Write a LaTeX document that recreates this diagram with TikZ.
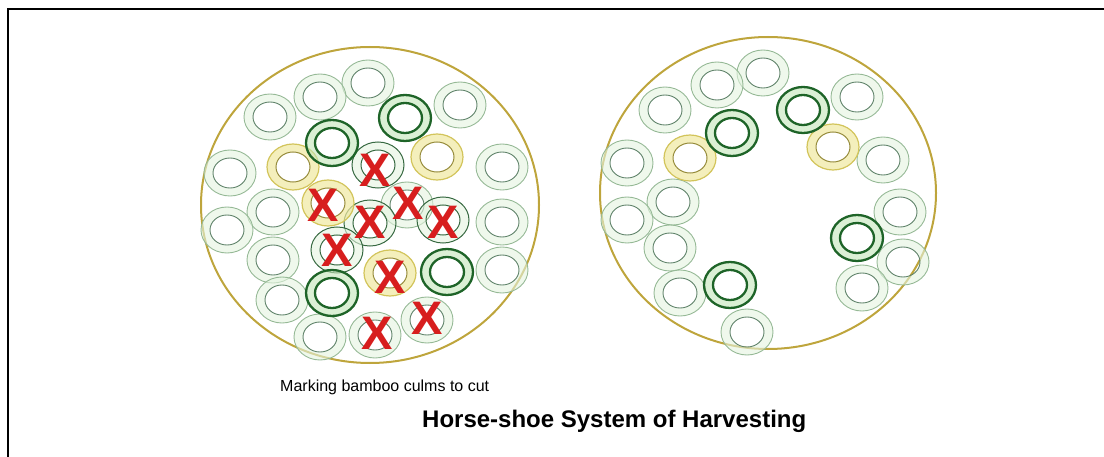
\documentclass[tikz,border=0pt]{standalone}
\usepackage{fontspec}
\setmainfont{Liberation Sans}
\usepackage{tikz}
\usetikzlibrary{shapes.geometric}
\definecolor{oro}{RGB}{190,165,60}
\definecolor{rojo}{RGB}{215,30,30}
\definecolor{verdepalido}{RGB}{228,244,224}
\definecolor{verdelinea}{RGB}{150,185,150}
\definecolor{verdegris}{RGB}{95,130,105}
\definecolor{verdemedio}{RGB}{55,105,65}
\definecolor{verdeclaro}{RGB}{195,230,185}
\definecolor{verdeoscuro}{RGB}{30,100,40}
\definecolor{amarillo}{RGB}{240,232,160}
\definecolor{amarillolinea}{RGB}{210,196,90}
\definecolor{oliva}{RGB}{150,140,60}

\tikzset{
  pics/culm/.style={code={
    \fill[#1 band, even odd rule] (0,0) ellipse (26 and 23) (0,0) ellipse (17 and 15);
    \draw[#1 outer] (0,0) ellipse (26 and 23);
    \draw[#1 inner] (0,0) ellipse (17 and 15);
  }},
  pale band/.style={fill=verdepalido, fill opacity=0.6},
  pale outer/.style={draw=verdelinea, line width=0.9pt},
  pale inner/.style={draw=verdegris, line width=0.9pt},
  mid band/.style={fill=verdepalido, fill opacity=0.6},
  mid outer/.style={draw=verdemedio, line width=1pt},
  mid inner/.style={draw=verdemedio, line width=1pt},
  dark band/.style={fill=verdeclaro, fill opacity=0.6},
  dark outer/.style={draw=verdeoscuro, line width=2.3pt},
  dark inner/.style={draw=verdeoscuro, line width=2.3pt},
  yellow band/.style={fill=amarillo, fill opacity=0.7},
  yellow outer/.style={draw=amarillolinea, line width=1.2pt},
  yellow inner/.style={draw=oliva, line width=1pt},
}

\begin{document}
\begin{tikzpicture}[x=1pt, y=-1pt,
    clump/.style={draw=oro, line width=2pt, ellipse, inner sep=0pt},
    cutmark/.style={text=rojo, font=\fontsize{47}{47}\selectfont\bfseries, inner sep=0pt},
    caption/.style={font=\fontsize{16}{18}\selectfont, inner sep=0pt, anchor=base west},
    title/.style={font=\fontsize{24}{28}\selectfont\bfseries, inner sep=0pt, anchor=base west}]
  \useasboundingbox (0,0) rectangle (1104,457);
  % frame (only top and left edges show)
  \draw[line width=2.5pt] (8,457) -- (8,9) -- (1104,9);

  % clumps
  \node[clump, minimum width=338, minimum height=316] (antes) at (370,205) {};
  \node[clump, minimum width=336, minimum height=312] (despues) at (768,193) {};

  % left clump: before cutting
  \foreach \x/\y in {368/83, 320/97, 270/117, 460/105, 230/173, 502/167, 273/212,
                     227/230, 502/222, 273/260, 502/270, 282/300, 320/337,
                     407/205, 427/320, 375/335}
    \pic at (\x,\y) {culm=pale};
  \foreach \x/\y in {378/165, 370/223, 443/220, 337/250}
    \pic at (\x,\y) {culm=mid};
  \foreach \x/\y in {293/167, 437/157, 328/203, 390/273}
    \pic at (\x,\y) {culm=yellow};
  \foreach \x/\y in {405/118, 332/143, 447/272, 332/293}
    \pic at (\x,\y) {culm=dark};

  % culms to cut
  \foreach \x/\y [count=\i] in {375/170, 323/205, 370/222, 408/203, 443/222,
                                337/250, 390/277, 377/333, 427/318}
    \node[cutmark] (corte\i) at (\x,\y) {X};

  % right clump: horse-shoe left
  \foreach \x/\y in {763/73, 717/85, 665/110, 857/97, 627/163, 883/160, 673/202,
                     627/220, 900/212, 670/248, 903/262, 680/293, 862/288, 747/332}
    \pic at (\x,\y) {culm=pale};
  \foreach \x/\y in {690/158, 833/147}
    \pic at (\x,\y) {culm=yellow};
  \foreach \x/\y in {803/110, 732/133, 857/238, 730/285}
    \pic at (\x,\y) {culm=dark};

  \node[caption] (marcado) at (280,391) {Marking bamboo culms to cut};
  \node[title] (titulo) at (422,427) {Horse-shoe System of Harvesting};
\end{tikzpicture}
\end{document}
